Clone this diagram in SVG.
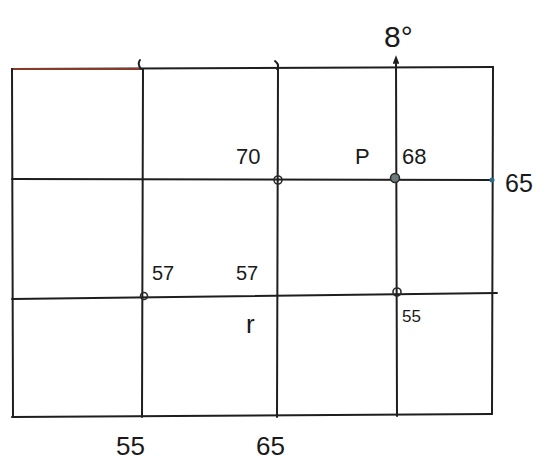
<svg xmlns="http://www.w3.org/2000/svg" width="546" height="463" viewBox="0 0 546 463">
<style>
.ln{stroke:#1e1e1e;stroke-width:2;fill:none;stroke-linecap:round}
.pt{stroke:#2a2a2a;stroke-width:1.6;fill:none}
.t{font-family:"Liberation Sans","DejaVu Sans",sans-serif;fill:#1a1a1a}
</style>
<rect width="546" height="463" fill="#fff"/>
<g id="connectors">
<path class="ln" d="M12 69 L493 67"/>
<path class="ln" d="M12 69 L140 69" style="stroke:#8a3a2a"/>
<path class="ln" d="M12 179 L492 180"/>
<path class="ln" d="M12 299 L497 293"/>
<path class="ln" d="M12 417 L492 414"/>
<path class="ln" d="M12 69 L13 417"/>
<path class="ln" d="M143 69 L142 417"/>
<path class="ln" d="M278 69 L277 417"/>
<path class="ln" d="M396 60 L397 416"/>
<path class="ln" d="M493 67 L492 414"/>
<path class="ln" d="M140 60 Q137 64 141 69"/>
<path class="ln" d="M275 61 Q280 65 277 69"/>
<path class="ln" d="M394 63 L396 58 L398 63"/>
</g>
<g id="top-80"><text class="t" x="384" y="47" font-size="30">8°</text></g>
<g id="p70"><circle class="pt" cx="278" cy="180" r="4"/><text class="t" x="236" y="164" font-size="22">70</text></g>
<g id="p68"><circle cx="395" cy="178" r="4.5" fill="#6a7a7a" stroke="#2a2a2a" stroke-width="1.5"/><text class="t" x="355" y="164" font-size="22">P</text><text class="t" x="402" y="164" font-size="22">68</text></g>
<g id="p65"><circle cx="492" cy="180" r="2.5" fill="#2a6a8a"/><text class="t" x="505" y="192" font-size="25">65</text></g>
<g id="p57a"><circle class="pt" cx="144" cy="296" r="3.5"/><text class="t" x="152" y="280" font-size="20">57</text></g>
<g id="p57b"><text class="t" x="236" y="280" font-size="20">57</text><text class="t" x="246" y="333" font-size="26">r</text></g>
<g id="p55"><circle class="pt" cx="397" cy="292" r="4"/><text class="t" x="402" y="322" font-size="17">55</text></g>
<g id="bottom-55"><text class="t" x="116" y="455" font-size="26">55</text></g>
<g id="bottom-65"><text class="t" x="256" y="455" font-size="26">65</text></g>
</svg>
